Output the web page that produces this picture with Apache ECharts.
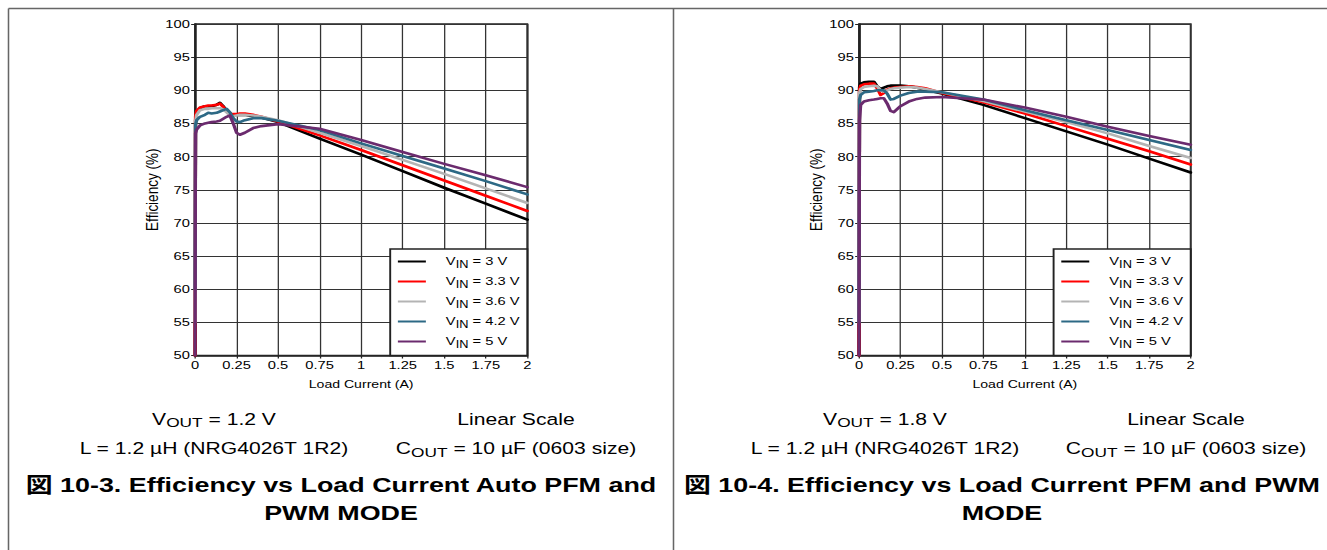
<!DOCTYPE html>
<html>
<head>
<meta charset="utf-8">
<script src="https://cdn.jsdelivr.net/npm/echarts@6/dist/echarts.min.js"></script>
<style>
html, body { margin: 0; padding: 0; background: #ffffff; overflow: hidden; }
#stage { width: 1037px; height: 550px; transform: scaleX(1.27965); transform-origin: 0 0; }
</style>
</head>
<body>
<div id="stage"></div>
<script>
// ---------------- DATA ----------------
const vinNames = ['VIN = 3 V', 'VIN = 3.3 V', 'VIN = 3.6 V', 'VIN = 4.2 V', 'VIN = 5 V'];
const xTicks = [0, 0.25, 0.5, 0.75, 1, 1.25, 1.5, 1.75, 2];
const yTicks = [50, 55, 60, 65, 70, 75, 80, 85, 90, 95, 100];

// Figure 10-3 (VOUT = 1.2 V)
const currentA = [0, 0.003, 0.01, 0.03, 0.06, 0.08, 0.1, 0.13, 0.15, 0.17, 0.19, 0.21, 0.23, 0.25, 0.27, 0.3, 0.35, 0.4, 0.5, 0.75, 1.0, 1.25, 1.5, 1.75, 2.0];
const effA_vin3   = [50, 85.5, 86.6, 87.3, 87.6, 87.6, 87.6, 87.8, 88.1, 87.6, 86.9, 86.5, 86.3, 86.3, 86.3, 86.3, 86.1, 85.9, 85.2, 82.7, 80.3, 77.8, 75.3, 72.9, 70.5];
const effA_vin3p3 = [50, 86.0, 86.9, 87.4, 87.6, 87.7, 87.7, 87.8, 88.0, 87.5, 86.9, 86.5, 86.4, 86.4, 86.5, 86.5, 86.3, 86.0, 85.3, 83.2, 81.0, 78.7, 76.4, 74.1, 71.8];
const effA_vin3p6 = [55, 85.3, 86.3, 87.0, 87.2, 87.2, 87.3, 87.3, 87.3, 87.1, 86.7, 86.2, 86.1, 86.2, 86.3, 86.3, 86.2, 86.0, 85.5, 83.6, 81.6, 79.5, 77.4, 75.2, 73.0];
const effA_vin4p2 = [60, 84.8, 85.5, 86.0, 86.3, 86.6, 86.5, 86.6, 86.8, 87.0, 87.2, 86.7, 85.8, 85.3, 85.2, 85.5, 85.8, 85.8, 85.4, 84.0, 82.0, 80.1, 78.2, 76.3, 74.3];
const effA_vin5   = [50, 83.5, 84.1, 84.7, 85.0, 85.1, 85.2, 85.3, 85.4, 85.7, 86.0, 86.2, 85.0, 83.6, 83.3, 83.6, 84.3, 84.6, 84.9, 84.2, 82.5, 80.7, 78.9, 77.2, 75.4];

// Figure 10-4 (VOUT = 1.8 V)
const currentB = [0, 0.003, 0.01, 0.03, 0.06, 0.09, 0.11, 0.13, 0.15, 0.17, 0.19, 0.21, 0.25, 0.3, 0.35, 0.4, 0.5, 0.75, 1.0, 1.25, 1.5, 1.75, 2.0];
const effB_vin3   = [50, 90.5, 91.0, 91.2, 91.3, 91.3, 90.6, 90.2, 90.4, 90.6, 90.7, 90.7, 90.7, 90.6, 90.4, 90.1, 89.5, 87.8, 85.8, 83.8, 81.8, 79.7, 77.6];
const effB_vin3p3 = [50, 90.1, 90.7, 90.9, 91.0, 91.0, 90.3, 89.3, 89.6, 90.1, 90.3, 90.4, 90.5, 90.6, 90.5, 90.3, 89.6, 88.2, 86.5, 84.6, 82.7, 80.8, 78.8];
const effB_vin3p6 = [55, 89.6, 90.2, 90.5, 90.6, 90.7, 90.6, 90.0, 89.8, 90.0, 90.2, 90.3, 90.4, 90.5, 90.4, 90.2, 89.7, 88.4, 86.8, 85.2, 83.5, 81.6, 79.8];
const effB_vin4p2 = [55, 88.6, 89.3, 89.7, 89.8, 89.9, 90.0, 90.0, 90.0, 89.5, 88.6, 88.7, 89.2, 89.6, 89.8, 89.8, 89.7, 88.6, 87.0, 85.5, 84.0, 82.5, 81.0];
const effB_vin5   = [50, 85.5, 87.8, 88.3, 88.5, 88.6, 88.7, 88.8, 88.8, 88.0, 86.9, 86.7, 87.6, 88.3, 88.7, 88.9, 89.0, 88.6, 87.4, 86.0, 84.5, 83.1, 81.8];

const effA = [effA_vin3, effA_vin3p3, effA_vin3p6, effA_vin4p2, effA_vin5];
const effB = [effB_vin3, effB_vin3p3, effB_vin3p6, effB_vin4p2, effB_vin5];

// ---------------- STYLE / LAYOUT ----------------
const lineColors = ['#000000', '#ff0000', '#b4b4b4', '#2d6985', '#6b2b6e'];
const FONT = "'Liberation Sans', Arial, 'Noto Sans CJK JP', sans-serif";
const W = 1037;
const S = 1327 / W;           // horizontal stretch applied by CSS
const px = v => v / S;        // reference x -> chart x

const chart = echarts.init(document.getElementById('stage'), null, { renderer: 'svg', width: W, height: 550 });

const gridTop = 24, gridH = 331.5;
const gridA = { left: px(195), right: px(527.3) };
const gridB = { left: px(859), right: px(1190.7) };

function xAxisFor(gi) {
  return {
    gridIndex: gi, type: 'value',
    min: xTicks[0], max: xTicks[xTicks.length - 1], interval: xTicks[1] - xTicks[0],
    name: 'Load Current (A)', nameLocation: 'middle', nameGap: 24,
    nameTextStyle: { fontSize: 11, color: '#000', fontFamily: FONT },
    axisLine: { show: true, lineStyle: { color: '#222', width: 1.5 } },
    axisTick: { show: true, length: 3, lineStyle: { color: '#222', width: 1 } },
    axisLabel: { fontSize: 11.5, color: '#000', fontFamily: FONT, margin: 4, formatter: v => String(v) },
    splitLine: { show: true, lineStyle: { color: '#333', width: 1 } }
  };
}
function yAxisFor(gi) {
  return {
    gridIndex: gi, type: 'value',
    min: yTicks[0], max: yTicks[yTicks.length - 1], interval: yTicks[1] - yTicks[0],
    name: 'Efficiency (%)', nameLocation: 'middle', nameGap: 17,
    nameTextStyle: { fontSize: 13.5, color: '#000', fontFamily: FONT },
    axisLine: { show: true, lineStyle: { color: '#222', width: 1.5 } },
    axisTick: { show: true, length: 3, lineStyle: { color: '#222', width: 1 } },
    axisLabel: { fontSize: 11.5, color: '#000', fontFamily: FONT, margin: 4 },
    splitLine: { show: true, lineStyle: { color: '#333', width: 1 } }
  };
}

const series = [];
[[currentA, effA, 0], [currentB, effB, 1]].forEach(([cur, effs, gi]) => {
  effs.forEach((eff, k) => {
    series.push({
      type: 'line', name: vinNames[k], xAxisIndex: gi, yAxisIndex: gi,
      data: cur.map((c, i) => [c, eff[i]]),
      symbol: 'none', showSymbol: false, smooth: false,
      color: lineColors[k],
      lineStyle: { color: lineColors[k], width: 2.6, join: 'round', cap: 'round' },
      emphasis: { disabled: true }, animation: false, z: 2 + k * 0.01
    });
  });
});

function legendFor(rightEdge) {
  return {
    data: vinNames, orient: 'vertical', selectedMode: false,
    right: W - rightEdge, top: 249,
    icon: 'rect', itemWidth: px(28), itemHeight: 2, itemGap: 4,
    padding: [4.5, 6, 6, 6],
    backgroundColor: '#ffffff', borderColor: '#222', borderWidth: 1.5,
    formatter: n => n.replace('VIN', '{pad| }V{sub|IN}'),
    textStyle: {
      fontSize: 11.5, color: '#000', fontFamily: FONT, lineHeight: 16,
      rich: {
        pad: { width: px(20) - 5, fontSize: 11.5, fontFamily: FONT },
        sub: { fontSize: 10, lineHeight: 6, verticalAlign: 'bottom', fontFamily: FONT, color: '#000' }
      }
    }
  };
}

const capRich = { sub: { fontSize: 13.5, lineHeight: 12, verticalAlign: 'bottom', fontFamily: FONT, fill: '#000', color: '#000' } };
function capText(xRef, y, text) {
  return {
    type: 'text', x: px(xRef), y: y, silent: true,
    style: { text: text, fill: '#000', fontSize: 16.5, fontFamily: FONT, lineHeight: 20,
             align: 'center', verticalAlign: 'middle', rich: capRich }
  };
}
function titleText(xRef, y, text) {
  return {
    type: 'text', x: px(xRef), y: y, silent: true,
    style: { text: text, fill: '#000', fontSize: 21, fontWeight: 'bold', fontFamily: FONT,
             align: 'center', verticalAlign: 'middle' }
  };
}
function hLine(x1, x2, y, w) {
  return { type: 'line', silent: true, shape: { x1: px(x1), y1: y, x2: px(x2), y2: y }, style: { stroke: '#666', lineWidth: w } };
}
function vLine(x, y1, y2, w) {
  return { type: 'line', silent: true, shape: { x1: px(x), y1: y1, x2: px(x), y2: y2 }, style: { stroke: '#666', lineWidth: w } };
}

const graphic = [
  hLine(8.5, 1327, 8.5, 1.5),
  vLine(8.5, 8.5, 560, 1.2),
  vLine(673.5, 8.5, 560, 1.2),
  capText(214, 419, 'V{sub|OUT} = 1.2 V'),
  capText(516, 419, 'Linear Scale'),
  capText(214, 448.5, 'L = 1.2 µH (NRG4026T 1R2)'),
  capText(516, 448.5, 'C{sub|OUT} = 10 µF (0603 size)'),
  titleText(341, 484.5, '図 10-3. Efficiency vs Load Current Auto PFM and'),
  titleText(341, 513, 'PWM MODE'),
  capText(885, 419, 'V{sub|OUT} = 1.8 V'),
  capText(1186, 419, 'Linear Scale'),
  capText(885, 448.5, 'L = 1.2 µH (NRG4026T 1R2)'),
  capText(1186, 448.5, 'C{sub|OUT} = 10 µF (0603 size)'),
  titleText(1002, 484.5, '図 10-4. Efficiency vs Load Current PFM and PWM'),
  titleText(1002, 513, 'MODE')
];

chart.setOption({
  animation: false,
  backgroundColor: '#ffffff',
  textStyle: { fontFamily: FONT },
  grid: [
    { left: gridA.left, top: gridTop, width: gridA.right - gridA.left, height: gridH, show: true, borderColor: '#222', borderWidth: 1.5, backgroundColor: 'transparent' },
    { left: gridB.left, top: gridTop, width: gridB.right - gridB.left, height: gridH, show: true, borderColor: '#222', borderWidth: 1.5, backgroundColor: 'transparent' }
  ],
  xAxis: [xAxisFor(0), xAxisFor(1)],
  yAxis: [yAxisFor(0), yAxisFor(1)],
  legend: [legendFor(gridA.right), legendFor(gridB.right)],
  series: series,
  graphic: graphic
});
</script>
</body>
</html>
